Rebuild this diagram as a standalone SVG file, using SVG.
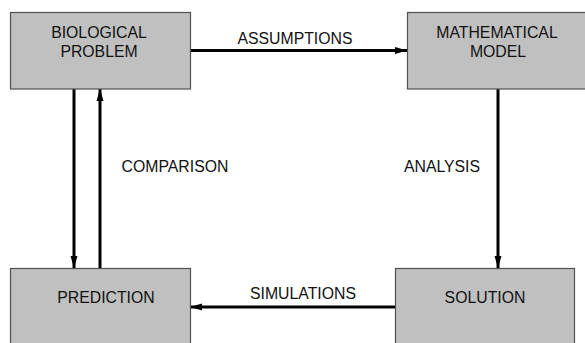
<svg xmlns="http://www.w3.org/2000/svg" width="585" height="343" viewBox="0 0 585 343">
<defs>
<marker id="ah" markerUnits="userSpaceOnUse" markerWidth="12" markerHeight="8" refX="12" refY="4" orient="auto">
<path d="M0,0.5 L12,4 L0,7.5 z" fill="#000"/>
</marker>
<style>
.box{fill:#c0c0c0;stroke:#505050;stroke-width:1.2}
.t{font-family:"Liberation Sans",Arial,sans-serif;font-size:15.8px;fill:#111;text-anchor:middle}
.c{stroke:#000;stroke-width:3;fill:none;marker-end:url(#ah)}
</style>
</defs>
<rect width="585" height="343" fill="#fff"/>
<g id="connectors">
<line class="c" x1="190" y1="50.5" x2="407" y2="50.5"/>
<line class="c" x1="74" y1="89" x2="74" y2="268"/>
<line class="c" x1="100" y1="268" x2="100" y2="89"/>
<line class="c" x1="498" y1="89" x2="498" y2="268"/>
<line class="c" x1="395" y1="307" x2="190" y2="307"/>
<text class="t" x="295" y="44">ASSUMPTIONS</text>
<text class="t" x="175" y="172">COMPARISON</text>
<text class="t" x="442" y="172">ANALYSIS</text>
<text class="t" x="303" y="299">SIMULATIONS</text>
</g>
<g id="biological">
<rect class="box" x="10.5" y="12.5" width="180" height="76.5"/>
<text class="t" x="99" y="37.5">BIOLOGICAL</text>
<text class="t" x="99" y="57">PROBLEM</text>
</g>
<g id="model">
<rect class="box" x="407.5" y="12.5" width="185" height="76.5"/>
<text class="t" x="497" y="37.5">MATHEMATICAL</text>
<text class="t" x="498" y="57">MODEL</text>
</g>
<g id="prediction">
<rect class="box" x="10.5" y="268.5" width="180" height="85"/>
<text class="t" x="106" y="303">PREDICTION</text>
</g>
<g id="solution">
<rect class="box" x="395.5" y="268.5" width="179" height="85"/>
<text class="t" x="485" y="303">SOLUTION</text>
</g>
</svg>
